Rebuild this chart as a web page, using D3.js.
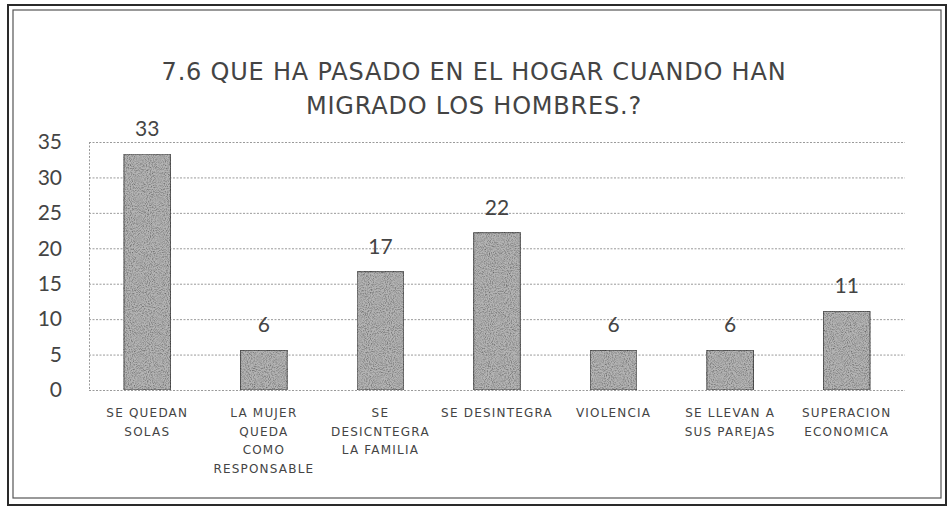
<!DOCTYPE html>
<html>
<head>
<meta charset="utf-8">
<script src="https://cdn.jsdelivr.net/npm/d3@7"></script>
<style>
  body { margin: 0; background: #fff; }
  svg { display: block; }
</style>
</head>
<body>
<div class="chart"></div>
<script>
var w = 948;
var h = 507;

// categorias del eje x (en varias lineas)
var categorias = [
  ["SE QUEDAN", "SOLAS"],
  ["LA MUJER", "QUEDA", "COMO", "RESPONSABLE"],
  ["SE", "DESICNTEGRA", "LA FAMILIA"],
  ["SE DESINTEGRA"],
  ["VIOLENCIA"],
  ["SE LLEVAN A", "SUS PAREJAS"],
  ["SUPERACION", "ECONOMICA"]
];
// porcentajes (la etiqueta va redondeada)
var valores = [33.3, 5.6, 16.7, 22.2, 5.6, 5.6, 11.1];
var ticksY = [0, 5, 10, 15, 20, 25, 30, 35];
var titulo = ["7.6 QUE HA PASADO EN EL HOGAR CUANDO HAN", "MIGRADO LOS HOMBRES.?"];

var margin = {top: 142, right: 43, bottom: 117, left: 89};

var svg = d3.select(".chart")
    .append("svg")
    .attr("width", w)
    .attr("height", h);

// textura de la barra escaneada
var defs = svg.append("defs");
var f = defs.append("filter").attr("id", "grano")
    .attr("x", 0).attr("y", 0).attr("width", 1).attr("height", 1);
f.append("feTurbulence").attr("type", "fractalNoise")
    .attr("baseFrequency", 0.95).attr("numOctaves", 2).attr("seed", 3).attr("result", "ruido");
f.append("feColorMatrix").attr("in", "ruido").attr("type", "matrix")
    .attr("values", "0 0 0 0 0  0 0 0 0 0  0 0 0 0 0  0 0 0 -1.4 0.85")
    .attr("result", "puntos");
f.append("feComposite").attr("in", "puntos").attr("in2", "SourceGraphic").attr("operator", "in").attr("result", "p2");
f.append("feMerge").selectAll("feMergeNode")
    .data(["SourceGraphic", "p2"]).enter().append("feMergeNode").attr("in", function(d) { return d; });

// marco doble
svg.append("rect").attr("x", 8).attr("y", 5).attr("width", 938).attr("height", 500)
    .attr("fill", "none").attr("stroke", "#2a2a2a").attr("stroke-width", 2);
svg.append("rect").attr("x", 13).attr("y", 10).attr("width", 928).attr("height", 488)
    .attr("fill", "none").attr("stroke", "#555").attr("stroke-width", 1.2);

var x = d3.scaleBand()
    .domain(d3.range(valores.length))
    .range([margin.left, w - margin.right])
    .paddingInner(0.6)
    .paddingOuter(0.3);

var y = d3.scaleLinear()
    .domain([0, 35])
    .range([h - margin.bottom, margin.top]);

// lineas de la cuadricula
svg.append("g")
    .selectAll("line")
    .data(ticksY)
    .enter()
    .append("line")
    .attr("x1", margin.left)
    .attr("x2", w - margin.right)
    .attr("y1", function(d) { return y(d) + 0.5; })
    .attr("y2", function(d) { return y(d) + 0.5; })
    .attr("stroke", "#9a9a9a")
    .attr("stroke-dasharray", "2,1.5")
    .attr("stroke-width", 1);

svg.append("line")
    .attr("x1", margin.left + 0.5).attr("x2", margin.left + 0.5)
    .attr("y1", y(35)).attr("y2", y(0))
    .attr("stroke", "#9a9a9a")
    .attr("stroke-dasharray", "2,1.5");

// eje y
var ejeY = svg.append("g")
    .attr("transform", "translate(" + (margin.left - 27) + ",0)")
    .call(d3.axisLeft(y).tickValues(ticksY).tickSize(0).tickPadding(0));
ejeY.select(".domain").remove();
ejeY.selectAll("text")
    .attr("font-family", "Lato, 'Open Sans', sans-serif")
    .attr("font-size", 21)
    .attr("fill", "#444");

// barras
svg.append("g")
    .selectAll("rect")
    .data(valores)
    .enter()
    .append("rect")
    .attr("x", function(d, i) { return x(i); })
    .attr("y", function(d) { return y(d); })
    .attr("width", x.bandwidth())
    .attr("height", function(d) { return y(0) - y(d); })
    .attr("fill", "#b4b4b4")
    .attr("stroke", "#555")
    .attr("stroke-width", 1)
    .attr("filter", "url(#grano)");

// etiquetas de datos
svg.append("g")
    .selectAll("text")
    .data(valores)
    .enter()
    .append("text")
    .attr("x", function(d, i) { return x(i) + x.bandwidth() / 2; })
    .attr("y", function(d) { return y(d) - 18; })
    .attr("text-anchor", "middle")
    .attr("font-family", "Lato, 'Open Sans', sans-serif")
    .attr("font-size", 21)
    .attr("fill", "#444")
    .text(function(d) { return d3.format(".0f")(d); });

// etiquetas del eje x
var cat = svg.append("g")
    .selectAll("text")
    .data(categorias)
    .enter()
    .append("text")
    .attr("x", function(d, i) { return x(i) + x.bandwidth() / 2; })
    .attr("y", h - margin.bottom + 27)
    .attr("text-anchor", "middle")
    .attr("font-family", "'DejaVu Sans', sans-serif")
    .attr("font-size", 12)
    .attr("letter-spacing", 1.2)
    .attr("fill", "#444");
cat.selectAll("tspan")
    .data(function(d) { return d; })
    .enter()
    .append("tspan")
    .attr("x", function() { return d3.select(this.parentNode).attr("x"); })
    .attr("dy", function(d, i) { return i === 0 ? 0 : 18.5; })
    .text(function(d) { return d; });

// titulo
svg.append("g")
    .selectAll("text")
    .data(titulo)
    .enter()
    .append("text")
    .attr("x", 474)
    .attr("y", function(d, i) { return 80 + i * 34; })
    .attr("text-anchor", "middle")
    .attr("font-family", "'DejaVu Sans', sans-serif")
    .attr("font-size", 24)
    .attr("letter-spacing", 0.8)
    .attr("fill", "#444")
    .text(function(d) { return d; });
</script>
</body>
</html>
